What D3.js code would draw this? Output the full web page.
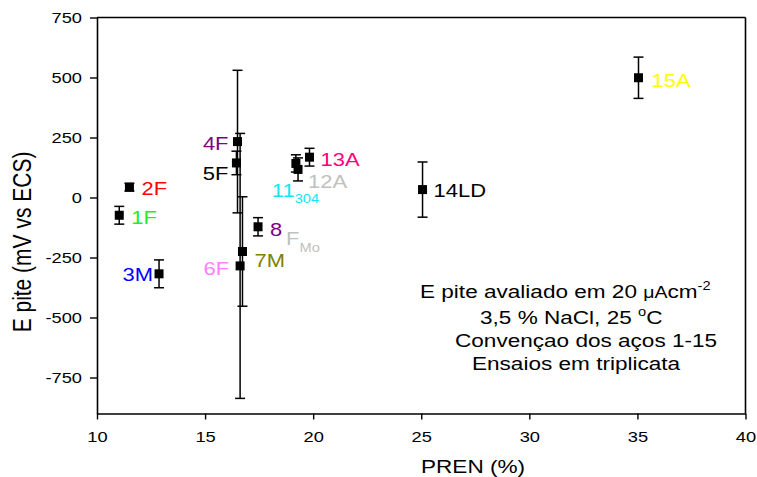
<!DOCTYPE html>
<html>
<head>
<meta charset="utf-8">
<script src="https://cdn.jsdelivr.net/npm/d3@7"></script>
<style>
  body { margin: 0; background: #fff; }
  text { font-family: "Liberation Sans", Arial, sans-serif; }
</style>
</head>
<body>
<svg id="chart" width="757" height="477"></svg>
<script>
// data
const names  = ["1F", "2F", "3M", "4F", "5F", "6F", "7M", "8", "11", "12A", "13A", "14LD", "15A"]
const pren   = [11.03, 11.5, 12.87, 16.5, 16.45, 16.62, 16.73, 17.45, 19.2, 19.3, 19.83, 25.06, 35.05]
const epite  = [-74, 43, -318, 233, 144, -285, -225, -122, 142, 117, 168, 33, 499]
const errs   = [37, 16, 58, 297, 49, 552, 228, 38, 36, 48, 37, 115, 86]
const colors = ["#22ee22", "#ff0000", "#0000ff", "#800080", "#000000", "#ff80ff", "#808000",
                "#800080", "#11e6f2", "#c0c0c0", "#ff0080", "#000000", "#ffff00"]
const subs   = {"11": "304"}          // subscript after the label
const xTicks = [10, 15, 20, 25, 30, 35, 40]
const yTicks = [-750, -500, -250, 0, 250, 500, 750]
const notes  = ["E pite avaliado em 20 ", "3,5 % NaCl, 25 ", "Convençao dos aços 1-15", "Ensaios em triplicata"]

// label placement (px offset from the point), layout only
const lblDx  = [12, 12, -6, -9, -8, -11, 12, 12, -3, 10, 11, 11, 13]
const lblDy  = [9, 8, 7, 8, 17, 9, 15, 9, 34, 19, 9, 7, 9]
const lblEnd = ["3M", "4F", "5F", "6F", "11"]

const SX = 1.22   // the picture is stretched sideways a bit
const svg = d3.select("#chart")

let x = d3.scaleLinear().domain([10, 40]).range([97, 745.5])
let y = d3.scaleLinear().domain([-900, 750]).range([413.5, 17.5])

// frame top / right
svg.append("line").attr("x1", x(10)).attr("x2", x(40)).attr("y1", y(750)).attr("y2", y(750))
    .attr("stroke", "#000").attr("stroke-width", 1.6)
svg.append("line").attr("x1", x(40)).attr("x2", x(40)).attr("y1", y(750)).attr("y2", y(-900))
    .attr("stroke", "#000").attr("stroke-width", 1.6)

// axes (plain hyphen for negatives, like the original)
let yAxis = svg.append("g").attr("transform", `translate(${x(10)},0)`)
    .call(d3.axisLeft(y).tickValues(yTicks).tickSize(7).tickSizeOuter(0).tickFormat(d => String(d)))
let xAxis = svg.append("g").attr("transform", `translate(0,${y(-900)})`)
    .call(d3.axisBottom(x).tickValues(xTicks).tickSize(6).tickSizeOuter(0).tickFormat(d => String(d)))

;[xAxis, yAxis].forEach(a => {
    a.select(".domain").attr("stroke-width", 1.6)
    a.selectAll(".tick line").attr("stroke-width", 1.4)
})
yAxis.selectAll("text")
    .attr("x", null).attr("dy", "0.35em")
    .attr("transform", `translate(-15,0) scale(${SX},1)`)
    .style("font-size", "15px").attr("fill", "#000")
xAxis.selectAll("text")
    .attr("y", null).attr("dy", null)
    .attr("transform", `translate(0,28) scale(${SX},1)`)
    .style("font-size", "15px").attr("fill", "#000")

// axis titles
svg.append("text")
    .attr("transform", `translate(473,473) scale(${SX},1)`)
    .attr("text-anchor", "middle").style("font-size", "18.5px")
    .text("PREN (%)")
svg.append("text")
    .attr("transform", `translate(31,242) rotate(-90) scale(1,${SX})`)
    .attr("text-anchor", "middle").style("font-size", "21px")
    .text("E pite (mV vs ECS)")

// error bars
let bars = svg.append("g").attr("stroke", "#000").attr("stroke-width", 1.5)
names.forEach((n, i) => {
    let cx = x(pren[i]), lo = y(epite[i] - errs[i]), hi = y(epite[i] + errs[i])
    bars.append("line").attr("x1", cx).attr("x2", cx).attr("y1", lo).attr("y2", hi)
    bars.append("line").attr("x1", cx - 5).attr("x2", cx + 5).attr("y1", lo).attr("y2", lo)
    bars.append("line").attr("x1", cx - 5).attr("x2", cx + 5).attr("y1", hi).attr("y2", hi)
})

// square markers
svg.append("g").selectAll("rect")
    .data(names).enter().append("rect")
    .attr("x", (d, i) => x(pren[i]) - 4.5)
    .attr("y", (d, i) => y(epite[i]) - 4.5)
    .attr("width", 9).attr("height", 9)
    .attr("fill", "#000")

// point labels
names.forEach((n, i) => {
    let t = svg.append("text")
        .attr("transform", `translate(${x(pren[i]) + lblDx[i]},${y(epite[i]) + lblDy[i]}) scale(${SX},1)`)
        .attr("text-anchor", lblEnd.includes(n) && !subs[n] ? "end" : "start")
        .style("font-size", "18px").attr("fill", colors[i])
    if (subs[n]) {
        // "11" then subscript 304; placed from its left edge
        t.attr("transform", `translate(${x(pren[i]) - 24},${y(epite[i]) + lblDy[i]}) scale(${SX},1)`)
        t.append("tspan").text(n)
        t.append("tspan").attr("dy", 6).style("font-size", "12px").text(subs[n])
    } else {
        t.text(n)
    }
})

// the grey F_Mo next to "8"
let i8 = names.indexOf("8")
let fmo = svg.append("text")
    .attr("transform", `translate(${x(pren[i8]) + 28},${y(epite[i8]) + 18}) scale(${SX},1)`)
    .style("font-size", "18px").attr("fill", "#c0c0c0")
fmo.append("tspan").text("F")
fmo.append("tspan").attr("dy", 7).style("font-size", "12px").text("Mo")

// notes box text
let nx = [420, 480, 455, 472], ny = [298, 324, 347, 370]
notes.forEach((s, k) => {
    let t = svg.append("text")
        .attr("transform", `translate(${nx[k]},${ny[k]}) scale(${SX},1)`)
        .style("font-size", "18.5px").attr("fill", "#000")
    t.append("tspan").text(s)
    if (k === 0) {
        t.append("tspan").style("font-size", "16px").text("μA")
        t.append("tspan").text("cm")
        t.append("tspan").attr("dy", -8).style("font-size", "12px").text("-2")
    }
    if (k === 1) {
        t.append("tspan").attr("dy", -8).style("font-size", "12px").text("o")
        t.append("tspan").attr("dy", 8).text("C")
    }
})
</script>
</body>
</html>
